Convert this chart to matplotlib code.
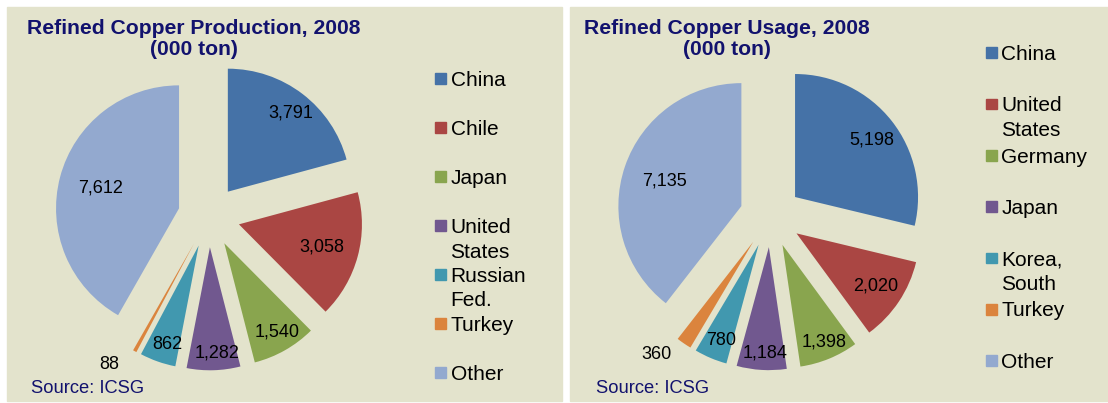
import numpy as np
import matplotlib.pyplot as plt
from matplotlib.patches import Rectangle

plt.rcParams['font.family'] = ['Liberation Sans', 'DejaVu Sans']

#%% data
prod_labels = ['China', 'Chile', 'Japan', 'United\nStates', 'Russian\nFed.', 'Turkey', 'Other']
prod_values = [3791, 3058, 1540, 1282, 862, 88, 7612]

use_labels = ['China', 'United\nStates', 'Germany', 'Japan', 'Korea,\nSouth', 'Turkey', 'Other']
use_values = [5198, 2020, 1398, 1184, 780, 360, 7135]

colors = ['#4572A7', '#AA4643', '#89A54E', '#71588F', '#4198AF', '#DB843D', '#93A9CF']
bg = '#E3E3CC'
navy = '#12126E'

#%% figure in pixels
W, H = 1108, 403
R = 123.0  # pie radius in px
fig = plt.figure(figsize=(W / 100, H / 100), dpi=100)
fig.patch.set_facecolor('white')

def fx(x):
    return x / W

def fy(y):
    return 1 - y / H

# panel backgrounds
fig.add_artist(Rectangle((fx(7), fy(401)), (562 - 7) / W, (401 - 7) / H,
                         transform=fig.transFigure, color=bg, zorder=0))
fig.add_artist(Rectangle((fx(570), fy(401)), (1108 - 570) / W, (401 - 7) / H,
                         transform=fig.transFigure, color=bg, zorder=0))


def draw_pie(cx, cy, values, dists, tweaks):
    '''
    pie centred at pixel (cx, cy), exploded wedges, value labels inside
    '''
    s = 360.0
    ax = fig.add_axes([fx(cx - s / 2), fy(cy + s / 2), s / W, s / H])
    wedges, _ = ax.pie(values, colors=colors, startangle=90, counterclock=False,
                       explode=[0.252] * len(values), radius=1,
                       wedgeprops=dict(linewidth=0))
    lim = s / 2 / R
    ax.set_xlim(-lim, lim)
    ax.set_ylim(-lim, lim)
    ax.set_aspect('equal')
    ax.axis('off')
    for w, v, d, t in zip(wedges, values, dists, tweaks):
        ang = np.deg2rad((w.theta1 + w.theta2) / 2 + t)
        x0, y0 = w.center
        ax.text(x0 + d * np.cos(ang), y0 + d * np.sin(ang), '{:,}'.format(v),
                ha='center', va='center', fontsize=13, color='black')
    return ax


def draw_title(xc, text):
    fig.text(fx(xc), fy(33.5), text, ha='center', va='baseline',
             fontsize=15.2, fontweight='bold', color=navy)
    fig.text(fx(xc), fy(55), '(000 ton)', ha='center', va='baseline',
             fontsize=15.2, fontweight='bold', color=navy)


def draw_legend(x0, y0, step, lh, labels):
    for i, (lab, c) in enumerate(zip(labels, colors)):
        yc = y0 + i * step
        fig.add_artist(Rectangle((fx(x0), fy(yc + 5.3)), 10.7 / W, 10.7 / H,
                                 transform=fig.transFigure, color=c))
        for j, line in enumerate(lab.split('\n')):
            fig.text(fx(x0 + 15.5), fy(yc + 7.3 + j * lh), line, ha='left',
                     va='baseline', fontsize=15, color='black')


#%% left: production
draw_pie(209, 216.3, prod_values,
         [0.82, 0.70, 0.84, 0.86, 0.84, 1.2, 0.66],
         [-1, -0.5, 1, 2, 2, -6, 0])
draw_title(194, 'Refined Copper Production, 2008')
draw_legend(435, 78.7, 49, 24.5, prod_labels)
fig.text(fx(31.4), fy(388.3), 'Source: ICSG', ha='left', va='center',
         fontsize=13.2, color=navy)

#%% right: usage
draw_pie(770.7, 216.2, use_values,
         [0.78, 0.77, 0.86, 0.86, 0.84, 1.21, 0.655],
         [-1.5, 0, 1, 1.3, 1.5, -6.4, 0.5])
draw_title(726.6, 'Refined Copper Usage, 2008')
draw_legend(986, 52.7, 51.3, 25, use_labels)
fig.text(fx(595.6), fy(388.3), 'Source: ICSG', ha='left', va='center',
         fontsize=13.2, color=navy)

plt.savefig('out.png', dpi=100, facecolor='white')
